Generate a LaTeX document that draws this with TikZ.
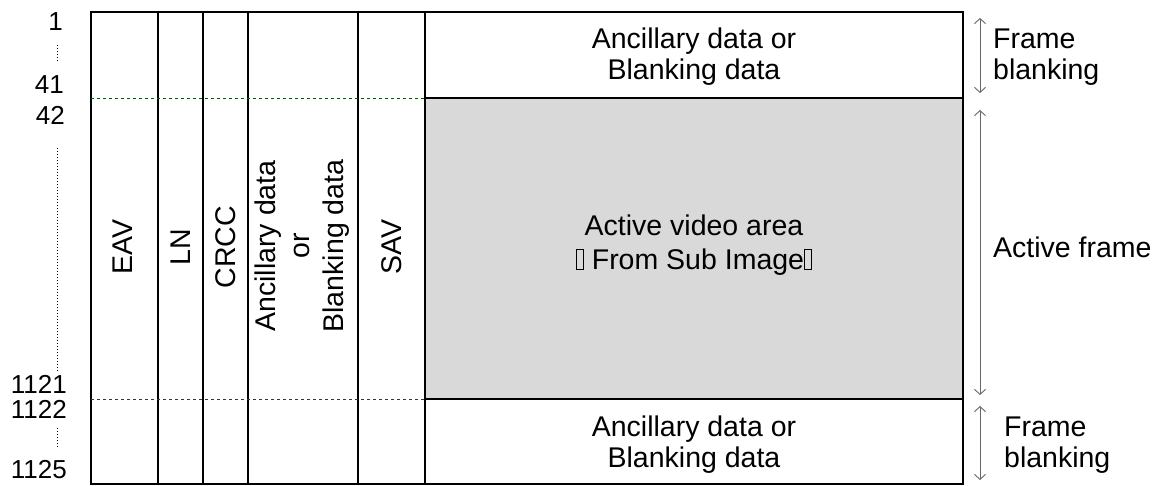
\documentclass[tikz,border=0pt]{standalone}
\usepackage{fontspec}
\setmainfont{Liberation Sans}
\usetikzlibrary{arrows.meta}

% empty glyph box, as the reference prints it
\newcommand{\tofu}{{\fboxsep=0pt\fboxrule=0.7pt\fbox{\rule{0pt}{0.68em}\hspace{0.22em}}}}

\begin{document}
\begin{tikzpicture}[
        x=1pt, y=-1pt,
        >={Straight Barb[length=5pt,width=11pt]},
        txt/.style={
            font=\fontsize{28.5}{31}\selectfont,
            align=center,
            inner sep=0pt
        },
        vtxt/.style={
            txt,
            font=\fontsize{28.5}{34}\selectfont,
            rotate=90
        },
        num/.style={
            font=\fontsize{26}{31}\selectfont,
            anchor=east,
            inner sep=0pt
        },
        grid/.style={
            line width=1.6pt,
            black
        },
        guide/.style={
            dashed,
            line width=0.8pt,
            green!35!black
        },
        dots/.style={
            dotted,
            line width=1pt
        },
        span/.style={
            <->,
            line width=0.9pt,
            black!60
        }
    ]
    \useasboundingbox (0,0) rectangle (1162,486);

    % Active area
    \fill[black!15] (425,98) rectangle (963,399);

    % Table frame and columns
    \draw[grid] (91,12) rectangle (963,484);
    \foreach \cx in {158,203,248,358,425}
        \draw[grid] (\cx,12) -- (\cx,484);
    \draw[grid] (425,98) -- (963,98);
    \draw[grid] (425,399) -- (963,399);
    \draw[guide] (91,98) -- (425,98);
    \draw[guide] (91,399) -- (425,399);

    % Column labels
    \node[vtxt] (eav) at (123,247) {EAV};
    \node[vtxt] (ln) at (180.5,247) {LN};
    \node[vtxt] (crcc) at (225.5,247) {CRCC};
    \node[vtxt] (anc) at (302,246) {Ancillary data\\or\\Blanking data};
    \node[vtxt] (sav) at (391.5,247) {SAV};

    % Row contents
    \node[txt] (topblank) at (694,57) {Ancillary data or\\Blanking data};
    \node[txt, font=\fontsize{28.5}{34}\selectfont] (active) at (694,245)
        {Active video area\\\tofu{} From Sub Image\tofu};
    \node[txt] (botblank) at (694,445) {Ancillary data or\\Blanking data};

    % Line numbers
    \node[num] (l1) at (63,22) {1};
    \node[num] (l41) at (64,85) {41};
    \node[num] (l42) at (65,115) {42};
    \node[num] (l1121) at (67,384) {1121};
    \node[num] (l1122) at (67,409) {1122};
    \node[num] (l1125) at (67,470) {1125};
    \draw[dots] (57,45) -- (57,62);
    \draw[dots] (57,148) -- (57,371);
    \draw[dots] (57,428) -- (57,447);

    % Extent arrows
    \coordinate (fa1) at (980,18);
    \coordinate (fa2) at (980,93);
    \coordinate (aa1) at (980,110);
    \coordinate (aa2) at (980,395);
    \coordinate (ba1) at (980,406);
    \coordinate (ba2) at (980,480);
    \draw[span] (fa1) -- (fa2);
    \draw[span] (aa1) -- (aa2);
    \draw[span] (ba1) -- (ba2);
    \node[txt, anchor=west, align=left] (fbtop) at (993,57) {Frame\\blanking};
    \node[txt, anchor=west] (afr) at (993,247) {Active frame};
    \node[txt, anchor=west, align=left] (fbbot) at (1004,445) {Frame\\blanking};
\end{tikzpicture}
\end{document}
